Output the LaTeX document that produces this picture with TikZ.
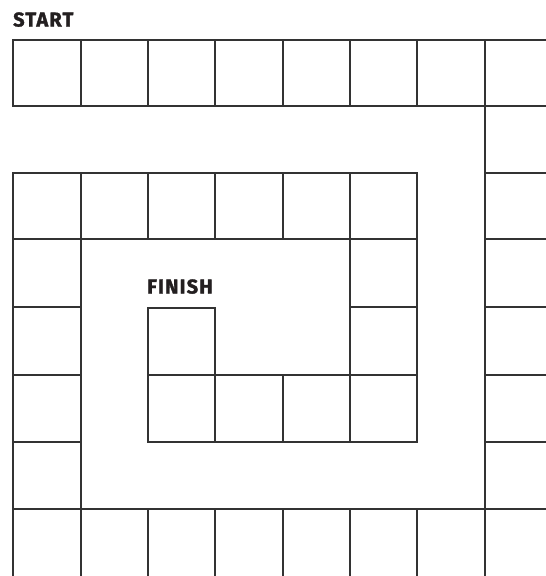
\documentclass[tikz,border=0pt]{standalone}
\usepackage{fontspec}
\setmainfont{Fira Sans}
\newfontfamily\heavyfont{Fira Sans}[BoldFeatures={FakeBold=1.6,LetterSpace=6}]
\definecolor{gridline}{HTML}{333333}
\definecolor{labeltext}{HTML}{231F20}
\begin{document}
\begin{tikzpicture}[x=1pt,y=-1pt,
  board/.style={draw=gridline,line width=1.4pt,line cap=rect},
  boardlabel/.style={anchor=base west,inner sep=0pt,text=labeltext,font=\heavyfont\bfseries\fontsize{20}{20}\selectfont}]
\useasboundingbox (0,0) rectangle (546,576);
\begin{scope}
\clip (0,0) rectangle (546,576);
% horizontal lines
\draw[board] (13,40) -- (560,40);
\draw[board] (13,106) -- (560,106);
\draw[board] (13,173) -- (417,173);
\draw[board] (485,173) -- (560,173);
\draw[board] (13,239) -- (417,239);
\draw[board] (485,239) -- (560,239);
\draw[board] (13,307) -- (81,307);
\draw[board] (148,308) -- (215,308);
\draw[board] (350,307) -- (417,307);
\draw[board] (485,307) -- (560,307);
\draw[board] (13,375) -- (81,375);
\draw[board] (148,375) -- (417,375);
\draw[board] (485,375) -- (560,375);
\draw[board] (13,442) -- (81,442);
\draw[board] (148,442) -- (417,442);
\draw[board] (485,442) -- (560,442);
\draw[board] (13,509) -- (560,509);
% vertical lines
\draw[board] (13,40) -- (13,106);
\draw[board] (13,173) -- (13,590);
\draw[board] (81,40) -- (81,106);
\draw[board] (81,173) -- (81,590);
\foreach \xx in {148,215} {
  \draw[board] (\xx,40) -- (\xx,106);
  \draw[board] (\xx,173) -- (\xx,239);
  \draw[board] (\xx,308) -- (\xx,442);
  \draw[board] (\xx,509) -- (\xx,590);
}
\draw[board] (283,40) -- (283,106);
\draw[board] (283,173) -- (283,239);
\draw[board] (283,375) -- (283,442);
\draw[board] (283,509) -- (283,590);
\foreach \xx in {350,417} {
  \draw[board] (\xx,40) -- (\xx,106);
  \draw[board] (\xx,173) -- (\xx,442);
  \draw[board] (\xx,509) -- (\xx,590);
}
\draw[board] (485,40) -- (485,590);
\end{scope}
\node[boardlabel] (start) at (13,26.5) {START};
\node[boardlabel] (finish) at (147,293.5) {FINISH};
\end{tikzpicture}
\end{document}
